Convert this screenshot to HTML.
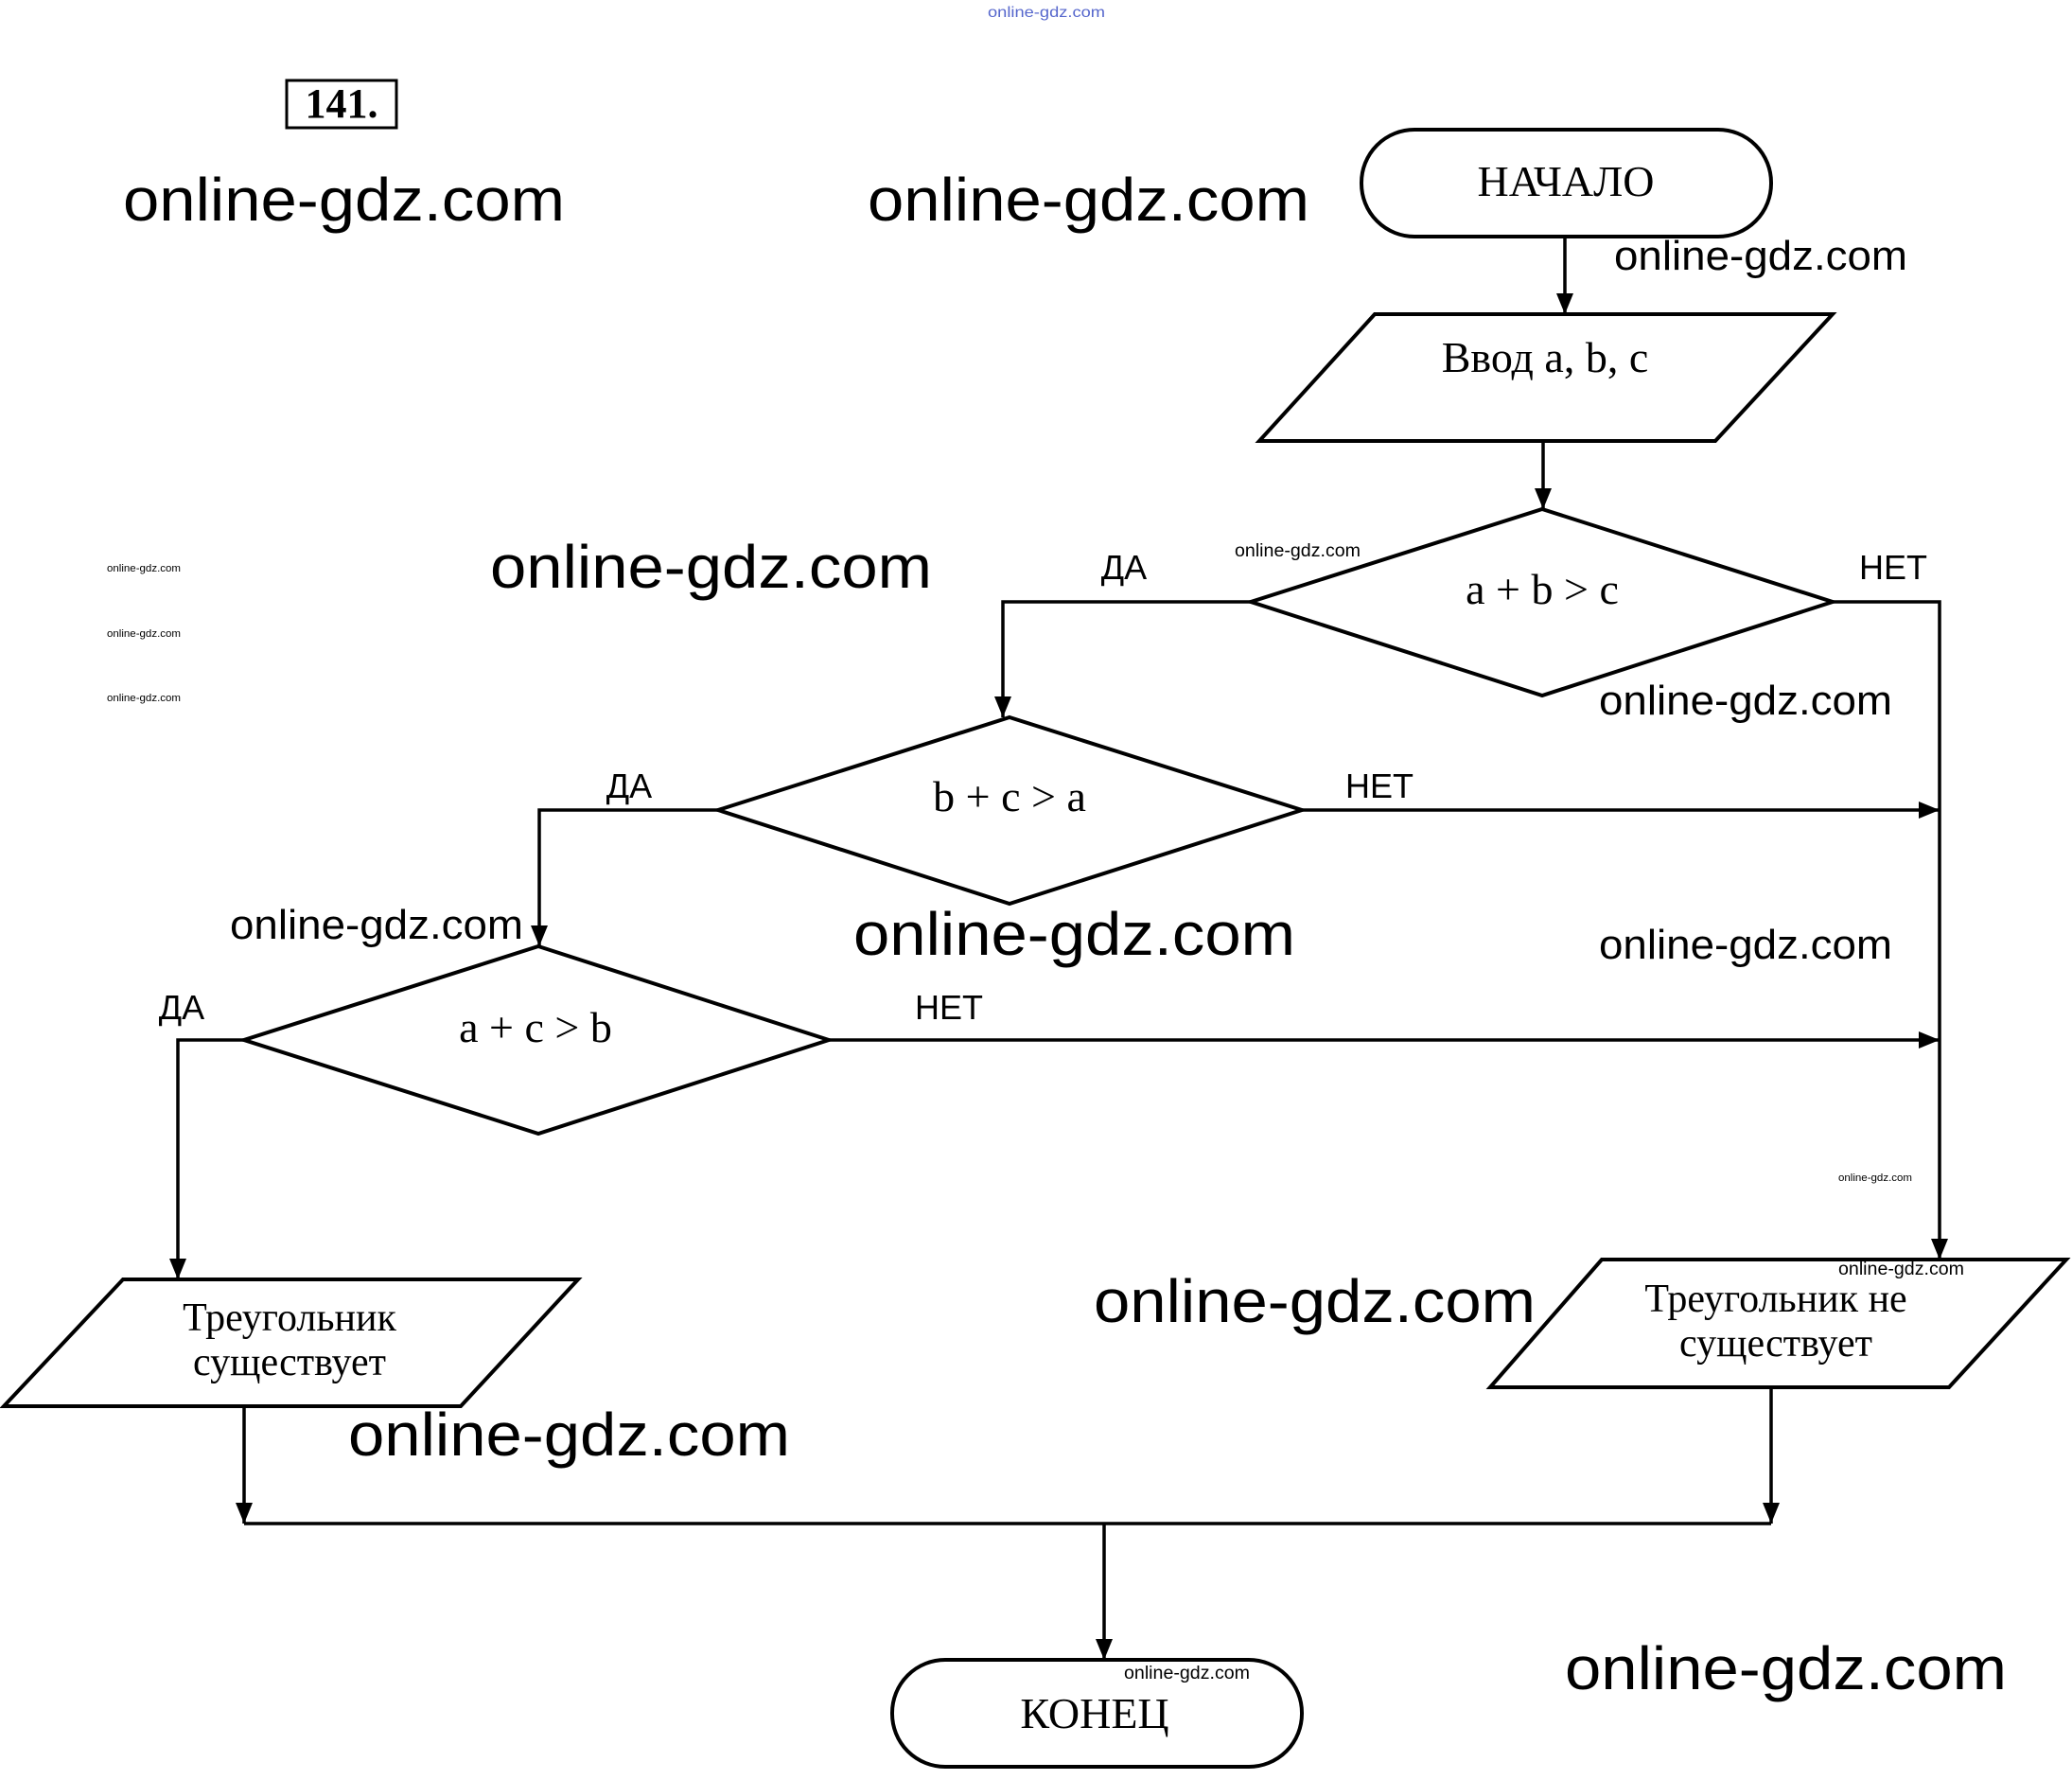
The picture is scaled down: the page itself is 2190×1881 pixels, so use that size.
<!DOCTYPE html>
<html><head><meta charset="utf-8"><style>
html,body{margin:0;padding:0;background:#fff;}
svg{display:block;}
.s{font-family:"Liberation Serif",serif;fill:#000;}
.w{font-family:"Liberation Sans",sans-serif;fill:#000;}
.l{font-family:"Liberation Sans",sans-serif;fill:#000;font-size:36px;}
</style></head><body>
<svg width="2190" height="1881" viewBox="0 0 2190 1881" xmlns="http://www.w3.org/2000/svg">
<defs><marker id="a" markerWidth="12" markerHeight="12" refX="10" refY="6" orient="auto" markerUnits="userSpaceOnUse" viewBox="0 0 12 12"><path d="M0,0 L12,6 L0,12 z" fill="#000"/></marker>
<marker id="b" markerWidth="22" markerHeight="26" refX="22" refY="13" orient="auto" markerUnits="userSpaceOnUse"><path d="M0,4 L22,13 L0,22 z" fill="#000"/></marker></defs>
<g fill="none" stroke="#000" stroke-width="4">
<rect x="1439" y="137" width="433" height="113" rx="56" ry="56"/>
<polygon points="1453,332 1937,332 1813,466 1331,466"/>
<polygon points="1630,538 1937,636 1630,735 1322,636"/>
<polygon points="1067,758 1376,856 1067,955 759,856"/>
<polygon points="569,1000 876,1099 569,1198 258,1099"/>
<polygon points="130,1352 611,1352 487,1486 4,1486"/>
<polygon points="1693,1331 2184,1331 2060,1466 1575,1466"/>
<rect x="943" y="1754" width="433" height="113" rx="56" ry="56"/>
<rect x="303" y="85" width="116" height="50" stroke-width="3"/>
<g stroke-width="3.5">
<path d="M1654,250 V332" marker-end="url(#b)"/>
<path d="M1631,466 V538" marker-end="url(#b)"/>
<path d="M1322,636 H1060 V758" marker-end="url(#b)"/>
<path d="M1937,636 H2050 V1331" marker-end="url(#b)"/>
<path d="M1376,856 H2050" marker-end="url(#b)"/>
<path d="M759,856 H570 V1000" marker-end="url(#b)"/>
<path d="M876,1099 H2050" marker-end="url(#b)"/>
<path d="M258,1099 H188 V1352" marker-end="url(#b)"/>
<path d="M258,1486 V1610" marker-end="url(#b)"/>
<path d="M1872,1466 V1610" marker-end="url(#b)"/>
<path d="M258,1610 H1872"/>
<path d="M1167,1610 V1754" marker-end="url(#b)"/>
</g></g>
<text class="s" x="361" y="124" font-size="44" font-weight="bold" text-anchor="middle">141.</text>
<g class="s" text-anchor="middle" font-size="46">
<text x="1655" y="207">НАЧАЛО</text>
<text x="1633" y="393">Ввод a, b, c</text>
<text x="1630" y="638">a + b &gt; c</text>
<text x="1067" y="857">b + c &gt; a</text>
<text x="566" y="1101">a + c &gt; b</text>
<text x="306" y="1406" font-size="42">Треугольник</text>
<text x="306" y="1453" font-size="42">существует</text>
<text x="1877" y="1386" font-size="42">Треугольник не</text>
<text x="1877" y="1433" font-size="42">существует</text>
<text x="1157" y="1826">КОНЕЦ</text>
</g>
<g class="l" text-anchor="middle">
<text x="1188" y="612">ДА</text><text x="2001" y="612">НЕТ</text>
<text x="665" y="843">ДА</text><text x="1458" y="843">НЕТ</text>
<text x="192" y="1077">ДА</text><text x="1003" y="1077">НЕТ</text>
</g>
<g class="w" font-size="64">
<text x="130" y="233" textLength="467" lengthAdjust="spacingAndGlyphs">online-gdz.com</text>
<text x="917" y="233" textLength="467" lengthAdjust="spacingAndGlyphs">online-gdz.com</text>
<text x="518" y="621" textLength="467" lengthAdjust="spacingAndGlyphs">online-gdz.com</text>
<text x="902" y="1009" textLength="467" lengthAdjust="spacingAndGlyphs">online-gdz.com</text>
<text x="1156" y="1397" textLength="467" lengthAdjust="spacingAndGlyphs">online-gdz.com</text>
<text x="368" y="1538" textLength="467" lengthAdjust="spacingAndGlyphs">online-gdz.com</text>
<text x="1654" y="1785" textLength="467" lengthAdjust="spacingAndGlyphs">online-gdz.com</text>
</g>
<g class="w" font-size="44">
<text x="1706" y="285" textLength="310" lengthAdjust="spacingAndGlyphs">online-gdz.com</text>
<text x="1690" y="755" textLength="310" lengthAdjust="spacingAndGlyphs">online-gdz.com</text>
<text x="243" y="992" textLength="310" lengthAdjust="spacingAndGlyphs">online-gdz.com</text>
<text x="1690" y="1013" textLength="310" lengthAdjust="spacingAndGlyphs">online-gdz.com</text>
</g>
<g class="w" font-size="19">
<text x="1305" y="588" textLength="133" lengthAdjust="spacingAndGlyphs">online-gdz.com</text>
<text x="1943" y="1347" textLength="133" lengthAdjust="spacingAndGlyphs">online-gdz.com</text>
<text x="1188" y="1774" textLength="133" lengthAdjust="spacingAndGlyphs">online-gdz.com</text>
</g>
<g class="w" font-size="11">
<text x="113" y="604" textLength="78" lengthAdjust="spacingAndGlyphs">online-gdz.com</text>
<text x="113" y="673" textLength="78" lengthAdjust="spacingAndGlyphs">online-gdz.com</text>
<text x="113" y="741" textLength="78" lengthAdjust="spacingAndGlyphs">online-gdz.com</text>
<text x="1943" y="1248" textLength="78" lengthAdjust="spacingAndGlyphs">online-gdz.com</text>
</g>
<text class="w" x="1044" y="18" font-size="16" fill="#4a5fd0" style="fill:#5566cc" textLength="124" lengthAdjust="spacingAndGlyphs">online-gdz.com</text>
</svg>
</body></html>
